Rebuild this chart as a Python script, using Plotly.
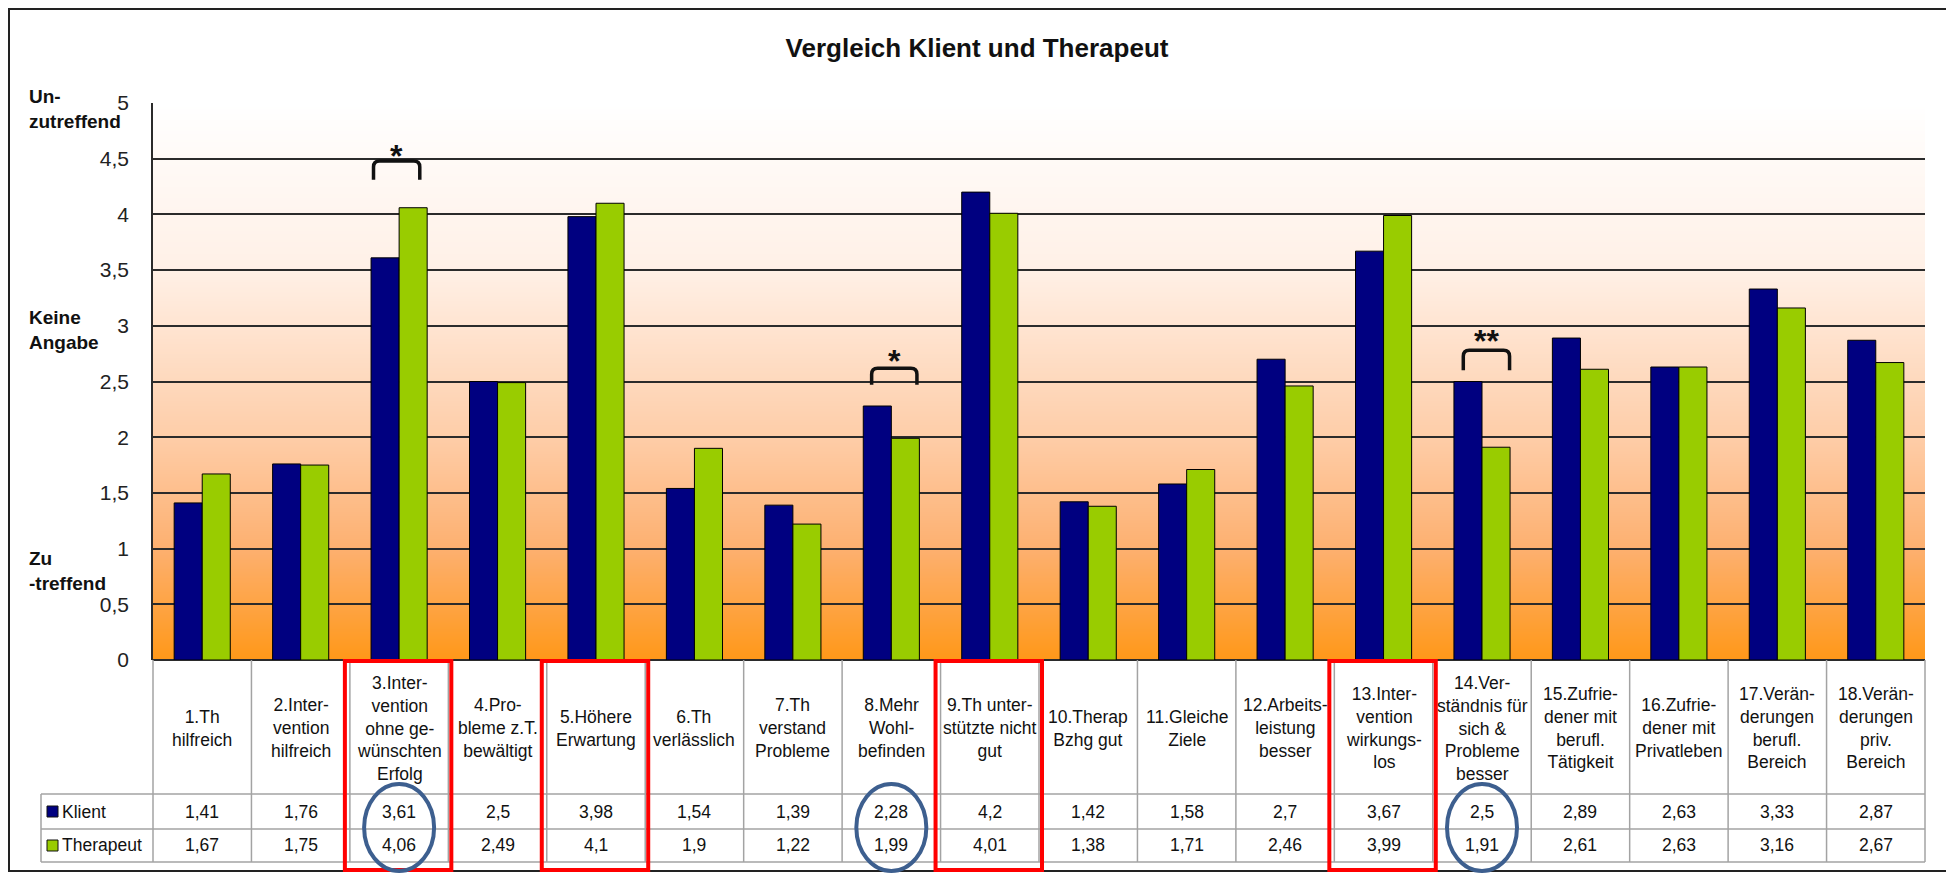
import base64
import struct
import zlib
import plotly.graph_objects as go

# ---------------- data ----------------
categories = [
    "1.Th<br>hilfreich",
    "2.Inter-<br>vention<br>hilfreich",
    "3.Inter-<br>vention<br>ohne ge-<br>wünschten<br>Erfolg",
    "4.Pro-<br>bleme z.T.<br>bewältigt",
    "5.Höhere<br>Erwartung",
    "6.Th<br>verlässlich",
    "7.Th<br>verstand<br>Probleme",
    "8.Mehr<br>Wohl-<br>befinden",
    "9.Th unter-<br>stützte nicht<br>gut",
    "10.Therap<br>Bzhg gut",
    "11.Gleiche<br>Ziele",
    "12.Arbeits-<br>leistung<br>besser",
    "13.Inter-<br>vention<br>wirkungs-<br>los",
    "14.Ver-<br>ständnis für<br>sich &<br>Probleme<br>besser",
    "15.Zufrie-<br>dener mit<br>berufl.<br>Tätigkeit",
    "16.Zufrie-<br>dener mit<br>Privatleben",
    "17.Verän-<br>derungen<br>berufl.<br>Bereich",
    "18.Verän-<br>derungen<br>priv.<br>Bereich",
]
klient = [1.41, 1.76, 3.61, 2.5, 3.98, 1.54, 1.39, 2.28, 4.2, 1.42, 1.58, 2.7, 3.67, 2.5, 2.89, 2.63, 3.33, 2.87]
therapeut = [1.67, 1.75, 4.06, 2.49, 4.1, 1.9, 1.22, 1.99, 4.01, 1.38, 1.71, 2.46, 3.99, 1.91, 2.61, 2.63, 3.16, 2.67]
series_names = ["Klient", "Therapeut"]
y_tick_values = [0, 0.5, 1, 1.5, 2, 2.5, 3, 3.5, 4, 4.5, 5]
y_tick_labels = ["0", "0,5", "1", "1,5", "2", "2,5", "3", "3,5", "4", "4,5", "5"]
scale_labels = ["Un-<br>zutreffend", "Keine<br>Angabe", "Zu<br>-treffend"]
title_text = "Vergleich Klient und Therapeut"
highlighted_columns = [2, 4, 8, 12]      # red frames
circled_columns = [2, 7, 13]             # blue circles
significance_columns = [2, 7, 13]
significance_marks = ["*", "*", "**"]

# ---------------- style / layout ----------------
OFF = 8                                   # page body margin of the html
W, H = 1954 - OFF, 873 - OFF
PL, PR, PT, PB = 153, 1925, 103, 660      # plot area in reference pixels
FONT = "Liberation Sans, Arial, sans-serif"
NAVY = "#000080"
GREEN = "#99CC00"
GRID = "#2b2b2b"
TABLE_LINE = "#a3a3a3"
TXT = "#111"
N = len(categories)


def px_x(px):
    return (px - PL) / (PR - PL)


def px_y(py):
    return (PB - py) / (PB - PT)


def gradient_png(h, stops):
    def col(t):
        for (t0, c0), (t1, c1) in zip(stops[:-1], stops[1:]):
            if t0 <= t <= t1:
                f = (t - t0) / (t1 - t0)
                return [round(a + (b - a) * f) for a, b in zip(c0, c1)]
        return stops[-1][1]
    raw = b""
    for i in range(h):
        r, g, b = col(i / (h - 1))
        raw += b"\x00" + bytes([r, g, b]) * 4

    def chunk(tag, data):
        return (struct.pack(">I", len(data)) + tag + data
                + struct.pack(">I", zlib.crc32(tag + data) & 0xFFFFFFFF))
    png = (b"\x89PNG\r\n\x1a\n"
           + chunk(b"IHDR", struct.pack(">IIBBBBB", 4, h, 8, 2, 0, 0, 0))
           + chunk(b"IDAT", zlib.compress(raw))
           + chunk(b"IEND", b""))
    return "data:image/png;base64," + base64.b64encode(png).decode()


grad_stops = [
    (0.0, (255, 255, 255)),
    (0.3, (255, 240, 230)),
    (0.6, (254, 205, 168)),
    (0.8, (253, 176, 112)),
    (1.0, (255, 152, 25)),
]

fig = go.Figure()
fig.add_trace(go.Bar(x=list(range(N)), y=klient, name=series_names[0],
                     marker=dict(color=NAVY, line=dict(color="black", width=1))))
fig.add_trace(go.Bar(x=list(range(N)), y=therapeut, name=series_names[1],
                     marker=dict(color=GREEN, line=dict(color="black", width=1))))

shapes = []
annotations = []

# outer frame
shapes.append(dict(type="rect", xref="paper", yref="paper",
                   x0=px_x(9), x1=px_x(1949), y0=px_y(9), y1=px_y(871),
                   line=dict(color="#222", width=2), layer="above"))

# table geometry
y_head_top = 0.0
y_k_top = px_y(794)
y_t_top = px_y(829)
y_bottom = px_y(862)
x_leg = px_x(41)

for k in range(N + 1):
    shapes.append(dict(type="line", xref="paper", yref="paper",
                       x0=k / N, x1=k / N, y0=y_head_top, y1=y_bottom,
                       line=dict(color=TABLE_LINE, width=1.5)))
shapes.append(dict(type="line", xref="paper", yref="paper",
                   x0=x_leg, x1=x_leg, y0=y_k_top, y1=y_bottom,
                   line=dict(color=TABLE_LINE, width=1.5)))
for yy in (y_k_top, y_t_top, y_bottom):
    shapes.append(dict(type="line", xref="paper", yref="paper",
                       x0=x_leg, x1=1, y0=yy, y1=yy,
                       line=dict(color=TABLE_LINE, width=1.5)))

# header labels and values
y_head_mid = px_y(728)
y_k_mid = px_y(811.5)
y_t_mid = px_y(845.5)
for i, lab in enumerate(categories):
    xc = (i + 0.5) / N
    annotations.append(dict(xref="paper", yref="paper", x=xc, y=y_head_mid,
                            text=lab, showarrow=False, align="center",
                            xanchor="center", yanchor="middle",
                            font=dict(family=FONT, size=17.5, color=TXT)))
    for val, ym in ((klient[i], y_k_mid), (therapeut[i], y_t_mid)):
        annotations.append(dict(xref="paper", yref="paper", x=xc, y=ym,
                                text=f"{val:g}".replace(".", ","), showarrow=False,
                                xanchor="center", yanchor="middle",
                                font=dict(family=FONT, size=17.5, color=TXT)))

# legend keys in the table
for name, color, ym in ((series_names[0], NAVY, y_k_mid), (series_names[1], GREEN, y_t_mid)):
    shapes.append(dict(type="rect", xref="paper", yref="paper",
                       x0=px_x(47), x1=px_x(58),
                       y0=ym - 5.5 / (PB - PT), y1=ym + 5.5 / (PB - PT),
                       fillcolor=color, line=dict(color="#111", width=1)))
    annotations.append(dict(xref="paper", yref="paper", x=px_x(60), y=ym,
                            text=name, showarrow=False, xanchor="left", yanchor="middle",
                            font=dict(family=FONT, size=17.5, color=TXT)))

# red highlight frames
for i in highlighted_columns:
    shapes.append(dict(type="rect", xref="paper", yref="paper",
                       x0=i / N - px_x(PL + 5), x1=(i + 1) / N + px_x(PL + 3),
                       y0=px_y(661), y1=px_y(870),
                       line=dict(color="#FF0000", width=4), layer="above"))

# blue circles
for i in circled_columns:
    xc = (i + 0.5) / N
    shapes.append(dict(type="circle", xref="paper", yref="paper",
                       x0=xc - px_x(PL + 35), x1=xc + px_x(PL + 35),
                       y0=px_y(871), y1=px_y(784),
                       line=dict(color="#3d5f8f", width=4), layer="above"))

# significance brackets
bracket_geo = [(-0.26, 0.21, 4.48, 4.31, 4.52),
               (-0.20, 0.26, 2.62, 2.47, 2.68),
               (-0.19, 0.28, 2.78, 2.60, 2.86)]
rx = 6 / (PR - PL)
ry = 6 / ((PB - PT) / 5)
for i, mark, (dl, dr, yt, yb, ys) in zip(significance_columns, significance_marks, bracket_geo):
    x0 = (i + 0.5 + dl) / N
    x1 = (i + 0.5 + dr) / N
    path = (f"M {x0},{yb} L {x0},{yt - ry} Q {x0},{yt} {x0 + rx},{yt} "
            f"L {x1 - rx},{yt} Q {x1},{yt} {x1},{yt - ry} L {x1},{yb}")
    shapes.append(dict(type="path", xref="paper", yref="y", path=path,
                       line=dict(color="#111", width=3.5), layer="above"))
    annotations.append(dict(xref="paper", yref="y", x=(x0 + x1) / 2, y=ys,
                            text=f"<b>{mark}</b>", showarrow=False, xanchor="center",
                            yanchor="middle",
                            font=dict(family=FONT, size=32, color=TXT)))

# left scale descriptions
for lab, yv in zip(scale_labels, [4.95, 2.96, 0.8]):
    annotations.append(dict(xref="paper", yref="y", x=px_x(27), y=yv,
                            text=f"<b>{lab}</b>", showarrow=False, xanchor="left",
                            yanchor="middle", align="left",
                            font=dict(family=FONT, size=19, color=TXT)))

fig.update_layout(
    width=W, height=H,
    margin=dict(l=PL - OFF, r=W - (PR - OFF), t=PT - OFF, b=H - (PB - OFF), pad=0),
    paper_bgcolor="white", plot_bgcolor="white",
    showlegend=False,
    barmode="group", bargap=0.43, bargroupgap=0.0,
    title=dict(text=f"<b>{title_text}</b>", x=(977 - OFF) / W, xref="container",
               y=1 - (48 - OFF) / H, yref="container", xanchor="center",
               yanchor="middle",
               font=dict(family=FONT, size=26, color=TXT)),
    xaxis=dict(type="linear", range=[-0.5, N - 0.5], showticklabels=False,
               showgrid=False, zeroline=False, showline=False, ticks=""),
    yaxis=dict(range=[0, 5], tickvals=y_tick_values, ticktext=y_tick_labels,
               showgrid=True, gridcolor=GRID, gridwidth=1.5,
               zeroline=True, zerolinecolor=GRID, zerolinewidth=1.5,
               showline=True, linecolor=GRID, linewidth=1.5,
               ticks="", ticklabelstandoff=18,
               tickfont=dict(family=FONT, size=21, color="#222")),
    images=[dict(source=gradient_png(557, grad_stops), xref="paper", yref="paper",
                 x=0, y=1, sizex=1, sizey=1, sizing="stretch",
                 xanchor="left", yanchor="top", layer="below")],
    shapes=shapes,
    annotations=annotations,
)

fig.write_html("out.html")
